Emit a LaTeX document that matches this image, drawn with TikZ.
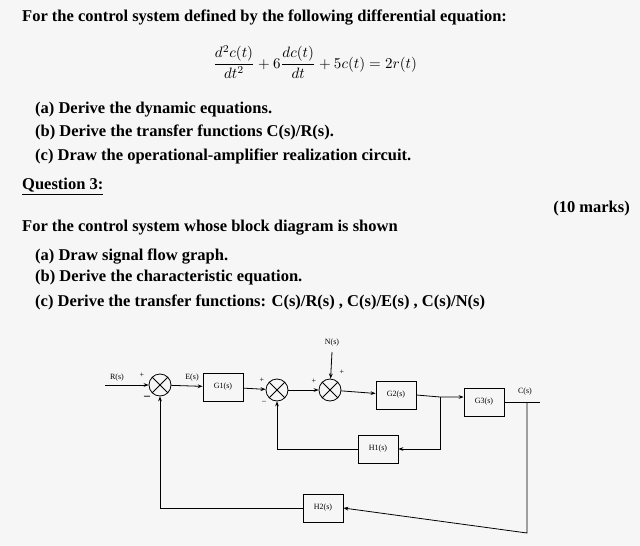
\documentclass[tikz,border=0pt]{standalone}
\usepackage{amsmath}
\usepackage{fontspec}
\setmainfont{Liberation Serif}
\usetikzlibrary{arrows.meta}
\begin{document}
\begin{tikzpicture}[x=1pt,y=-1pt,
  txt/.style={anchor=west,font=\bfseries\fontsize{16.5}{18}\selectfont,inner sep=0},
  blk/.style={draw,thick,minimum width=40,minimum height=28,font=\footnotesize},
  sumj/.style={draw,thick,circle,minimum size=22,inner sep=0,path picture={\draw (path picture bounding box.north west)--(path picture bounding box.south east) (path picture bounding box.north east)--(path picture bounding box.south west);}},
  sig/.style={font=\footnotesize,inner sep=1},
  ln/.style={thick},
  ar/.style={thick,-{Stealth[length=5pt]}}]
\useasboundingbox (0,0) rectangle (640,546);
\fill[white!93!gray] (0,0) rectangle (640,546);
\node[txt] (t1) at (22,18) {For the control system defined by the following differential equation:};
\node[scale=1.5] (eq) at (315,62) {$\dfrac{d^2c(t)}{dt^2}+6\dfrac{dc(t)}{dt}+5c(t)=2r(t)$};
\node[txt] (a1) at (35,110) {(a) Derive the dynamic equations.};
\node[txt] (b1) at (35,132) {(b) Derive the transfer functions C(s)/R(s).};
\node[txt] (c1) at (35,156) {(c) Draw the operational-amplifier realization circuit.};
\node[txt] (q3) at (22,187) {\underline{Question 3:}};
\node[anchor=east,font=\bfseries\fontsize{16.5}{18}\selectfont,inner sep=0] (mk) at (630,209) {(10 marks)};
\node[txt] (t2) at (22,228) {For the control system whose block diagram is shown};
\node[txt] (a2) at (35,257) {(a) Draw signal flow graph.};
\node[txt] (b2) at (35,278) {(b) Derive the characteristic equation.};
\node[txt] (c2) at (35,302) {(c) Derive the transfer functions: C(s)/R(s) , C(s)/E(s) , C(s)/N(s)};
% block diagram
\coordinate (in) at (105,385);
\node[sumj] (s1) at (160,385) {};
\node[blk] (g1) at (223,387) {G1(s)};
\node[sumj] (s2) at (277,390) {};
\node[sumj] (s3) at (330,390) {};
\node[blk] (g2) at (396,395) {G2(s)};
\node[blk] (g3) at (484,402) {G3(s)};
\node[blk] (h1) at (378,449) {H1(s)};
\node[blk] (h2) at (323,508) {H2(s)};
\coordinate (nin) at (332,352);
\coordinate (br1) at (440,397);
\coordinate (br2) at (527,402);
\coordinate (out) at (540,402);
\node[sig] (rl) at (117,378) {R(s)};
\node[sig] (el) at (192,378) {E(s)};
\node[sig] (nl) at (332,343) {N(s)};
\node[sig] (cl) at (525,392) {C(s)};
\node[sig] at (142,375) {+};
\node[sig,font=\large\bfseries] at (147,398) {--};
\node[sig] at (262,380) {+};
\node[sig] at (264,402) {--};
\node[sig] at (314,381) {+};
\node[sig] at (342,372) {+};
\draw[ar] (in) -- (s1);
\draw[ar] (s1) -- (g1);
\draw[ar] (g1) -- (s2);
\draw[ar] (s2) -- (s3);
\draw[ar] (nin) -- (s3);
\draw[ar] (s3) -- (g2);
\draw[ar] (g2.east) -- (br1) -- (g3.west |- br1);
\draw[ln] (g3) -- (out);
\draw[ar] (br1) |- (h1.east);
\draw[ar] (h1.west) -| (s2.south);
\draw[ar] (br2) |- (527,533) -- (h2.east);
\draw[ar] (h2.west) -| (s1.south);
\end{tikzpicture}
\end{document}
